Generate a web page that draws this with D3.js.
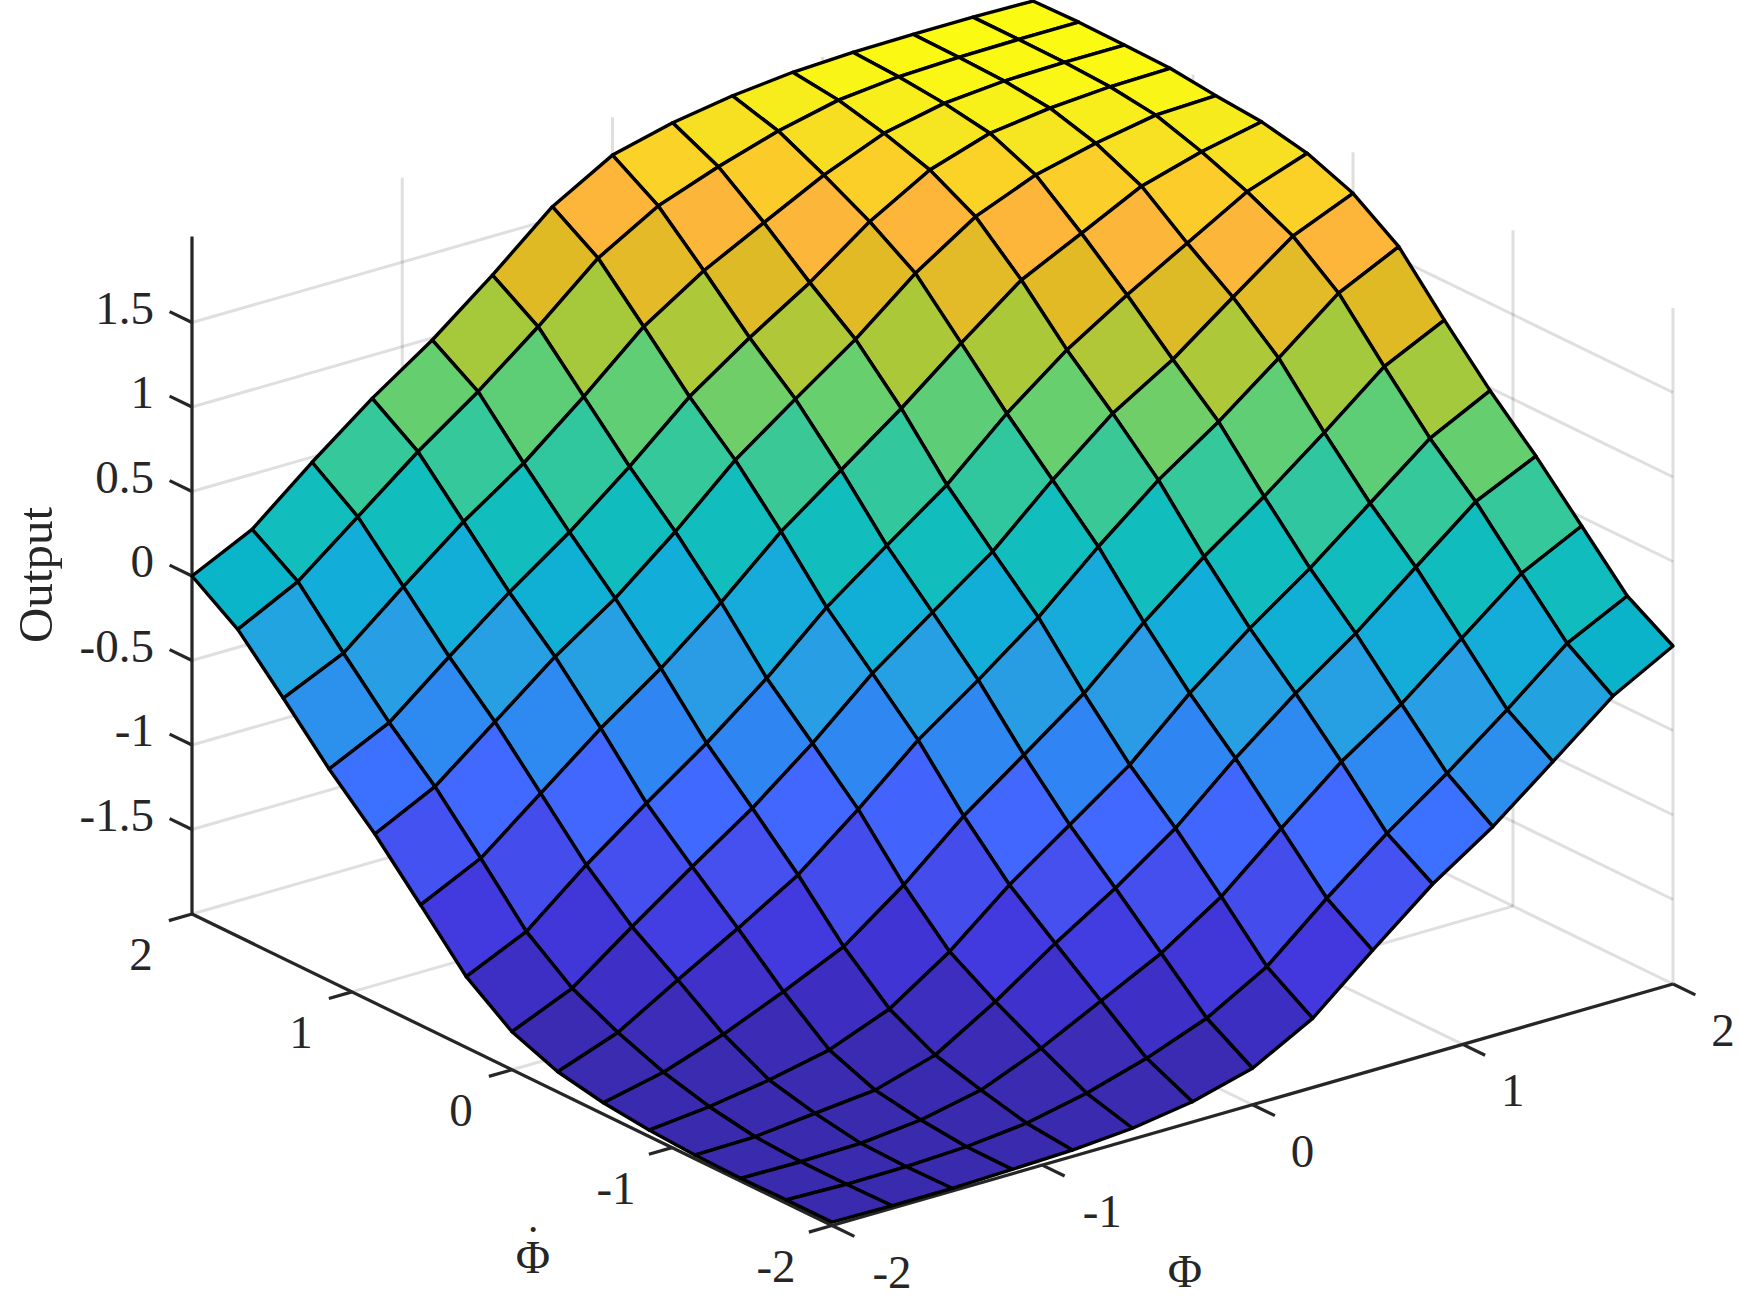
<!DOCTYPE html>
<html>
<head>
<meta charset="utf-8">
<script src="https://cdn.jsdelivr.net/npm/d3@7"></script>
<style>
  html, body { margin: 0; padding: 0; background: #fff; }
  text { font-family: "Liberation Serif", "Times New Roman", serif; fill: #262626; }
</style>
</head>
<body>
<svg id="chart" width="1739" height="1305"></svg>
<script>
const phiGrid = [-2, -1.714, -1.429, -1.143, -0.857, -0.571, -0.286, 0, 0.286, 0.571, 0.857, 1.143, 1.429, 1.714, 2];
const phiDotGrid = [-2, -1.714, -1.429, -1.143, -0.857, -0.571, -0.286, 0, 0.286, 0.571, 0.857, 1.143, 1.429, 1.714, 2];

// one row per phiDot, one column per phi
const output = [
  [-1.98, -1.985, -1.984, -1.974, -1.962, -1.935, -1.88, -1.784, -1.591, -1.29, -1.0, -0.763, -0.48, -0.194, 0],
  [-1.98, -1.99, -1.988, -1.972, -1.935, -1.86, -1.755, -1.62, -1.417, -1.114, -0.832, -0.579, -0.304, -0.014, 0.164],
  [-1.984, -1.988, -1.981, -1.945, -1.87, -1.725, -1.547, -1.367, -1.134, -0.832, -0.54, -0.3, -0.014, 0.269, 0.447],
  [-1.978, -1.972, -1.935, -1.9, -1.795, -1.581, -1.338, -1.114, -0.861, -0.549, -0.267, -0.014, 0.275, 0.561, 0.729],
  [-1.962, -1.926, -1.87, -1.794, -1.654, -1.417, -1.124, -0.871, -0.618, -0.296, -0.014, 0.239, 0.522, 0.804, 0.984],
  [-1.932, -1.854, -1.731, -1.581, -1.417, -1.154, -0.848, -0.589, -0.326, -0.008, 0.278, 0.532, 0.808, 1.097, 1.27],
  [-1.88, -1.75, -1.541, -1.338, -1.124, -0.838, -0.53, -0.277, -0.008, 0.308, 0.6, 0.843, 1.117, 1.4, 1.573],
  [-1.775, -1.62, -1.358, -1.105, -0.861, -0.579, -0.267, -0.008, 0.249, 0.571, 0.863, 1.08, 1.346, 1.606, 1.757],
  [-1.581, -1.417, -1.124, -0.861, -0.608, -0.326, -0.008, 0.255, 0.512, 0.833, 1.107, 1.33, 1.534, 1.737, 1.862],
  [-1.288, -1.114, -0.832, -0.549, -0.296, -0.008, 0.309, 0.571, 0.833, 1.118, 1.389, 1.563, 1.74, 1.842, 1.917],
  [-1.0, -0.822, -0.54, -0.257, -0.014, 0.278, 0.6, 0.859, 1.11, 1.399, 1.632, 1.777, 1.862, 1.927, 1.94],
  [-0.747, -0.575, -0.287, -0.008, 0.245, 0.531, 0.843, 1.09, 1.314, 1.573, 1.777, 1.892, 1.938, 1.963, 1.97],
  [-0.46, -0.296, -0.004, 0.278, 0.522, 0.814, 1.126, 1.355, 1.537, 1.717, 1.862, 1.937, 1.967, 1.976, 1.976],
  [-0.184, -0.004, 0.278, 0.561, 0.814, 1.096, 1.4, 1.607, 1.737, 1.846, 1.927, 1.963, 1.976, 1.98, 1.98],
  [0, 0.174, 0.469, 0.745, 0.988, 1.27, 1.573, 1.776, 1.865, 1.923, 1.96, 1.976, 1.98, 1.98, 1.973]
];

const phiTicks = [-2, -1, 0, 1, 2];
const phiDotTicks = [-2, -1, 0, 1, 2];
const outputTicks = [-1.5, -1, -0.5, 0, 0.5, 1, 1.5];
const outputLabels = ['-1.5', '-1', '-0.5', '0', '0.5', '1', '1.5'];

const svg = d3.select('#chart');

// orthographic view, each axis gets its own screen offset
const originX = 832, originY = 1225.5;
const phiX = d3.scaleLinear([-2, 2], [0, 841]);
const phiY = d3.scaleLinear([-2, 2], [0, -241.5]);
const dotX = d3.scaleLinear([-2, 2], [0, -640]);
const dotY = d3.scaleLinear([-2, 2], [0, -311.5]);
const outY = d3.scaleLinear([-2, 2], [0, -676]);

const project = (a, b, c) => [
  originX + phiX(a) + dotX(b),
  originY + phiY(a) + dotY(b) + outY(c)
];

// colours
const colour = d3.scaleLinear()
  .domain([0, 0.03, 0.06, 0.105, 0.14, 0.18, 0.22, 0.25, 0.285, 0.34, 0.37, 0.43, 0.455, 0.5, 0.57, 0.64, 0.705, 0.775, 0.82, 0.85, 0.88, 0.91, 0.95, 1])
  .range(['#3a2aad', '#3b2bb3', '#3e2fc6', '#4239de', '#444ceb', '#4552f2', '#4168ff', '#3c70ff', '#2f86f2', '#2a9be6', '#26a0e2', '#12aed8', '#0ab4c8', '#12bdbd', '#35c89a', '#65cf70', '#a8c93a', '#e0ba25', '#fbb83a', '#fdb63a', '#fbcb2a', '#fbd426', '#f5e820', '#fcfc10'])
  .clamp(true);
const tOutput = d3.scaleLinear([-2, 2], [0, 1]);

const line = d3.line();

// walls and floor
const gridLines = [];
outputTicks.forEach(z => {
  gridLines.push([project(-2, 2, z), project(2, 2, z)]);
  gridLines.push([project(2, 2, z), project(2, -2, z)]);
});
phiTicks.forEach(x => {
  gridLines.push([project(x, 2, -2), project(x, 2, 2)]);
  gridLines.push([project(x, -2, -2), project(x, 2, -2)]);
});
phiDotTicks.forEach(y => {
  gridLines.push([project(2, y, -2), project(2, y, 2)]);
  gridLines.push([project(-2, y, -2), project(2, y, -2)]);
});

svg.append('g').selectAll('path')
  .data(gridLines)
  .enter()
  .append('path')
  .attr('d', d => line(d))
  .style('fill', 'none')
  .style('stroke', '#262626')
  .style('stroke-opacity', 0.15)
  .style('stroke-width', 3);

// axes and ticks
const axes = svg.append('g')
  .style('fill', 'none')
  .style('stroke', '#262626')
  .style('stroke-width', 3.2);

axes.append('path').attr('d', line([project(-2, 2, -2), project(-2, 2, 2)])).style('stroke-linecap', 'square');
axes.append('path').attr('d', line([project(-2, -2, -2), project(2, -2, -2)]));
axes.append('path').attr('d', line([project(-2, -2, -2), project(-2, 2, -2)]));

axes.selectAll('.ztick')
  .data(outputTicks)
  .enter()
  .append('path')
  .classed('ztick', true)
  .attr('d', d => line([project(-2, 2, d), project(-2, 2.14, d)]));

axes.selectAll('.ytick')
  .data(phiDotTicks)
  .enter()
  .append('path')
  .classed('ytick', true)
  .attr('d', d => line([project(-2, d, -2), project(-2.11, d, -2)]));

axes.selectAll('.xtick')
  .data(phiTicks)
  .enter()
  .append('path')
  .classed('xtick', true)
  .attr('d', d => line([project(d, -2, -2), project(d, -2.14, -2)]));

// surface, back cells first
const cells = [];
phiDotGrid.slice(0, -1).forEach((y, j) => {
  phiGrid.slice(0, -1).forEach((x, i) => {
    cells.push({
      z: output[j][i],
      order: i + j,
      points: [
        project(phiGrid[i], phiDotGrid[j], output[j][i]),
        project(phiGrid[i + 1], phiDotGrid[j], output[j][i + 1]),
        project(phiGrid[i + 1], phiDotGrid[j + 1], output[j + 1][i + 1]),
        project(phiGrid[i], phiDotGrid[j + 1], output[j + 1][i])
      ]
    });
  });
});
cells.sort((a, b) => b.order - a.order);

svg.append('g').selectAll('path')
  .data(cells)
  .enter()
  .append('path')
  .attr('d', d => line(d.points) + 'Z')
  .style('fill', d => colour(tOutput(d.z)))
  .style('stroke', '#000')
  .style('stroke-width', 3.4)
  .style('stroke-linejoin', 'round');

// tick labels
const fontSize = '47px';

svg.append('g').selectAll('text')
  .data(outputTicks)
  .enter()
  .append('text')
  .attr('x', 154)
  .attr('y', d => project(-2, 2, d)[1] + 1)
  .attr('text-anchor', 'end')
  .style('font-size', fontSize)
  .text((d, i) => outputLabels[i]);

svg.append('g').selectAll('text')
  .data(phiDotTicks)
  .enter()
  .append('text')
  .attr('x', d => project(-2, d, -2)[0] + (d < 0 ? -56 : -51))
  .attr('y', d => project(-2, d, -2)[1] + 56)
  .attr('text-anchor', 'middle')
  .style('font-size', fontSize)
  .text(d => d);

svg.append('g').selectAll('text')
  .data(phiTicks)
  .enter()
  .append('text')
  .attr('x', d => project(d, -2, -2)[0] + (d < 0 ? 60 : 50))
  .attr('y', d => project(d, -2, -2)[1] + 62)
  .attr('text-anchor', 'middle')
  .style('font-size', fontSize)
  .text(d => d);

// axis titles
svg.append('text')
  .attr('transform', 'translate(52,575) rotate(-90)')
  .attr('text-anchor', 'middle')
  .style('font-size', '49px')
  .text('Output');

svg.append('text')
  .attr('x', 1185)
  .attr('y', 1287)
  .attr('text-anchor', 'middle')
  .style('font-size', fontSize)
  .text('\u03A6');

// second title, the dot is its own tspan so it sits centred over the letter
const dotTitle = svg.append('text')
  .attr('text-anchor', 'middle')
  .style('font-size', fontSize);
dotTitle.append('tspan').attr('x', 533).attr('y', 1273).text('\u03A6');
dotTitle.append('tspan').attr('x', 533).attr('y', 1258).text('\u02D9');
</script>
</body>
</html>
